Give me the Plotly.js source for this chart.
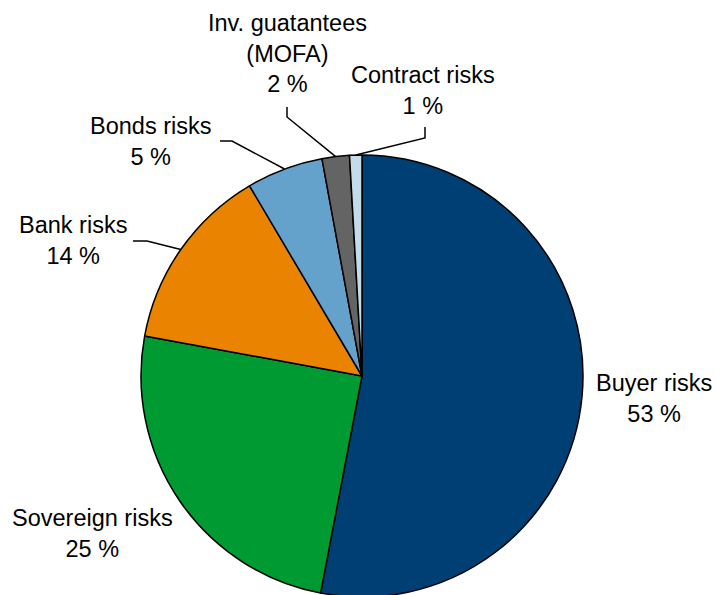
<!DOCTYPE html>
<html><head><meta charset="utf-8">
<script src="https://cdn.plot.ly/plotly-3.0.1.min.js"></script>
<style>html,body{margin:0;padding:0;overflow:hidden;background:#fff}</style>
</head><body><div id="chart"></div>
<script>
// Data
const categories = ["Buyer risks", "Sovereign risks", "Bank risks", "Bonds risks", "Inv. guatantees<br>(MOFA)", "Contract risks"];
const values = [53.0, 24.9, 13.6, 5.6, 2.0, 0.9];
const pctLabels = ["53 %", "25 %", "14 %", "5 %", "2 %", "1 %"];
const colors = ["#003f74", "#009a33", "#e98300", "#64a2cc", "#646464", "#c4dcea"];

// Layout (pixels)
const W = 716, H = 600;
const cx = 362, cy = 376, R = 221;
// label centre positions and leader elbow (null = no leader)
const labelPos = [[654, 398], [93, 533], [73, 241], [150, 141], [287, 53], [423, 90]];
const elbows = [null, null, [[133, 241], [147, 241]], [[220, 141], [232, 141]], [[287, 107], [287, 117]], [[425, 127], [425, 138]]];

const px = x => x / W, py = y => 1 - y / H;
const total = values.reduce((a, b) => a + b, 0);
let cum = 0;
const shapes = [], annotations = [];
values.forEach((v, i) => {
  const mid = (cum + v / 2) / total * 2 * Math.PI;
  cum += v;
  const ax = cx + R * Math.sin(mid), ay = cy - R * Math.cos(mid);
  if (elbows[i]) {
    const e = elbows[i];
    shapes.push({type: 'path', xref: 'paper', yref: 'paper',
      path: `M${px(e[0][0])},${py(e[0][1])} L${px(e[1][0])},${py(e[1][1])} L${px(ax)},${py(ay)}`,
      line: {color: '#000', width: 1.5}});
  }
  annotations.push({xref: 'paper', yref: 'paper', x: px(labelPos[i][0]), y: py(labelPos[i][1]),
    xanchor: 'center', yanchor: 'middle', showarrow: false, align: 'center',
    text: categories[i] + '<br>' + pctLabels[i],
    font: {family: 'Liberation Sans, Arial, sans-serif', size: 23.5, color: '#000'}});
});

const trace = {
  type: 'pie', values: values, labels: categories, sort: false, direction: 'clockwise', rotation: 0,
  marker: {colors: colors, line: {color: '#000', width: 1.5}},
  textinfo: 'none', hoverinfo: 'label+percent',
  domain: {x: [px(cx - R), px(cx + R)], y: [py(cy + R), py(cy - R)]}
};

Plotly.newPlot('chart', [trace], {
  width: W, height: H, margin: {l: 0, r: 0, t: 0, b: 0},
  paper_bgcolor: '#fff', showlegend: false, shapes: shapes, annotations: annotations
}, {displayModeBar: false, staticPlot: true});
</script></body></html>
